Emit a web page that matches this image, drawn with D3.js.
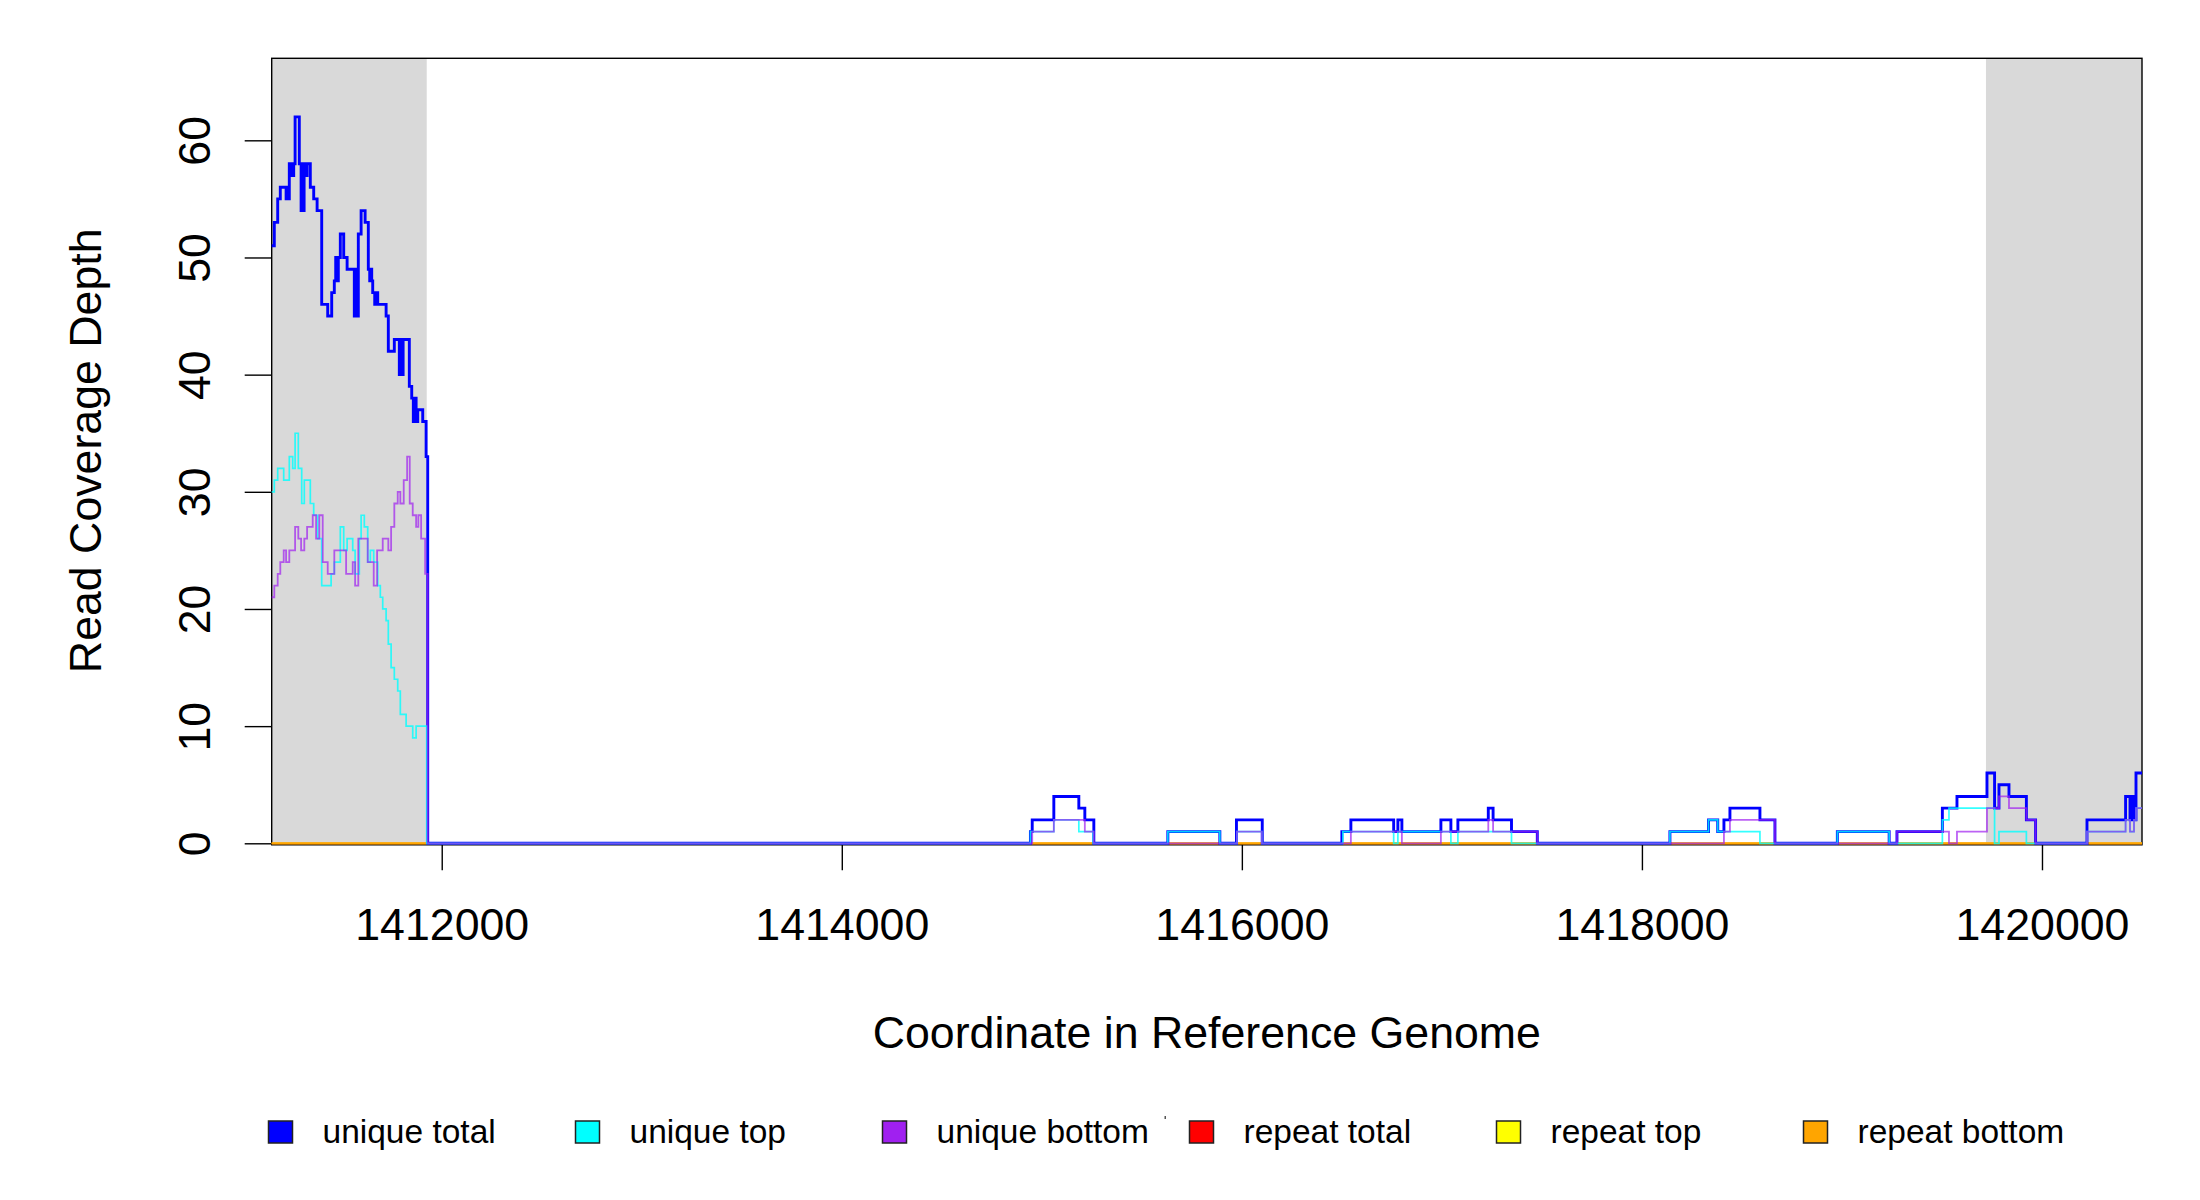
<!DOCTYPE html>
<html>
<head>
<meta charset="utf-8">
<script src="https://cdn.jsdelivr.net/npm/d3@7"></script>
<style>
  html, body { margin: 0; padding: 0; background: #ffffff; }
  svg { display: block; }
  text { font-family: "Liberation Sans", Arial, Helvetica, sans-serif; fill: #000; }
</style>
</head>
<body>
<svg id="chart" width="2200" height="1200"></svg>
<script>
// ---------------- data ----------------
const xDomain = [1411150, 1420500];
const yDomain = [0, 67];
const xTicks = [1412000, 1414000, 1416000, 1418000, 1420000];
const yTicks = [0, 10, 20, 30, 40, 50, 60];
const flankRegions = [[1411150, 1411925], [1419720, 1420500]];

const seriesNames = ["unique total", "unique top", "unique bottom", "repeat total", "repeat top", "repeat bottom"];
const seriesColors = ["#0000FF", "#00FFFF", "#A020F0", "#FF0000", "#FFFF00", "#FFA500"];

// [position, depth] breakpoints (step after)
const uniqueTotal = [
  [1411150,51],[1411163,53],[1411180,55],[1411193,56],[1411222,55],[1411228,56],[1411233,55],
  [1411238,58],[1411245,57],[1411250,58],[1411255,57],[1411260,58],[1411267,62],[1411288,58],
  [1411297,54],[1411302,58],[1411307,54],[1411312,58],[1411317,57],[1411327,58],[1411343,56],
  [1411360,55],[1411377,54],[1411400,46],[1411430,45],[1411450,47],[1411463,48],[1411470,50],
  [1411477,48],[1411483,50],[1411493,52],[1411510,50],[1411527,49],[1411563,45],[1411568,49],
  [1411573,45],[1411583,52],[1411597,54],[1411617,53],[1411633,49],[1411640,48],[1411645,49],
  [1411650,48],[1411655,47],[1411665,46],[1411672,47],[1411680,46],[1411693,46],[1411722,45],
  [1411733,42],[1411763,43],[1411788,40],[1411795,43],[1411800,40],[1411807,43],[1411813,43],
  [1411838,39],[1411850,38],[1411858,36],[1411865,38],[1411872,36],[1411880,37],[1411905,36],
  [1411922,33],[1411930,0],
  [1414943,1],[1414952,2],[1415060,4],[1415185,3],[1415215,2],[1415260,0],
  [1415630,1],[1415890,0],
  [1415973,2],[1416102,0],
  [1416500,1],[1416545,2],[1416759,1],[1416780,2],[1416800,1],[1416995,2],[1417045,1],
  [1417080,2],[1417232,3],[1417256,2],[1417348,1],[1417477,0],
  [1418140,1],[1418333,2],[1418379,1],[1418410,2],[1418440,3],[1418590,2],[1418665,0],
  [1418977,1],[1419236,0],
  [1419275,1],[1419502,3],[1419575,4],[1419725,6],[1419763,3],[1419785,5],[1419835,4],
  [1419922,2],[1419968,0],
  [1420225,2],[1420418,4],[1420440,2],[1420445,4],[1420450,2],[1420460,4],[1420465,2],
  [1420470,6],[1420500,6]
];

const uniqueTop = [
  [1411150,30],[1411163,31],[1411180,32],[1411210,31],[1411238,33],[1411255,32],[1411267,35],
  [1411283,32],[1411300,29],[1411313,31],[1411343,29],[1411360,28],[1411380,26],[1411400,22],
  [1411447,23],[1411463,24],[1411493,27],[1411510,25],[1411527,26],[1411555,25],[1411567,23],
  [1411588,26],[1411597,28],[1411613,27],[1411630,24],[1411643,25],[1411660,24],[1411680,22],
  [1411693,21],[1411705,20],[1411722,19],[1411733,17],[1411747,15],[1411763,14],[1411780,13],
  [1411793,11],[1411822,10],[1411855,9],[1411872,10],[1411925,0],
  [1414943,1],[1415060,2],[1415185,1],[1415257,0],
  [1415630,1],[1415890,0],
  [1415975,1],[1416100,0],
  [1416505,1],[1416759,0],[1416780,1],[1417045,0],[1417080,1],[1417348,0],
  [1418140,1],[1418333,2],[1418379,1],[1418590,0],
  [1418977,1],[1419236,0],
  [1419502,2],[1419535,3],[1419763,0],[1419785,1],[1419922,0],
  [1420225,1],[1420418,2],[1420440,1],[1420460,2],[1420470,3],[1420500,3]
];

const uniqueBottom = [
  [1411150,21],[1411163,22],[1411180,23],[1411193,24],[1411210,25],[1411222,24],[1411238,25],
  [1411267,27],[1411283,26],[1411297,25],[1411313,26],[1411327,27],[1411355,28],[1411372,26],
  [1411388,28],[1411405,24],[1411430,23],[1411463,25],[1411522,23],[1411555,24],[1411567,22],
  [1411583,26],[1411630,24],[1411660,22],[1411677,25],[1411705,26],[1411733,25],[1411747,27],
  [1411763,29],[1411780,30],[1411793,29],[1411810,31],[1411827,33],[1411840,29],[1411855,28],
  [1411872,27],[1411883,28],[1411897,26],[1411917,23],[1411930,0],
  [1414952,1],[1415060,2],[1415215,1],[1415260,0],
  [1415975,1],[1416100,0],
  [1416545,1],[1416800,0],[1416995,1],[1417232,2],[1417256,1],[1417477,0],
  [1418410,1],[1418440,2],[1418665,0],
  [1419275,1],[1419535,0],[1419575,1],[1419725,3],[1419785,4],[1419835,3],[1419922,2],
  [1419968,0],
  [1420225,1],[1420418,2],[1420440,1],[1420460,2],[1420470,3],[1420500,3]
];

const repeatTotal  = [[1411150,0],[1420500,0]];
const repeatTop    = [[1411150,0],[1420500,0]];
const repeatBottom = [[1411150,0],[1420500,0]];

// ---------------- drawing ----------------
const svg = d3.select("#chart");
const plot = { left: 271.7, right: 2142, top: 58.3, bottom: 843.3 };
const FS = 44.7;

const x = d3.scaleLinear().domain(xDomain).range([plot.left, plot.right]);
const y = d3.scaleLinear().domain(yDomain).range([plot.bottom, plot.top]);

svg.append("rect").attr("width", 2200).attr("height", 1200).attr("fill", "#fff");

// flank shading
svg.selectAll("rect.flank").data(flankRegions).enter().append("rect")
  .attr("class", "flank")
  .attr("x", d => x(d[0])).attr("y", plot.top)
  .attr("width", d => x(d[1]) - x(d[0])).attr("height", plot.bottom - plot.top + 1.5)
  .attr("fill", "#D9D9D9");

// box
svg.append("rect")
  .attr("x", plot.left).attr("y", plot.top)
  .attr("width", plot.right - plot.left).attr("height", plot.bottom - plot.top + 1.5)
  .attr("fill", "none").attr("stroke", "#000").attr("stroke-width", 1.4);

// axes
const xAxis = d3.axisBottom(x).tickValues(xTicks).tickFormat(d3.format("d"))
  .tickSize(27).tickPadding(38);
const gx = svg.append("g").attr("transform", `translate(0,${plot.bottom})`).call(xAxis);
gx.select(".domain").remove();
gx.selectAll(".tick line").attr("stroke", "#000").attr("stroke-width", 1.4);
gx.selectAll(".tick text").attr("font-size", FS)
  .attr("font-family", "'Liberation Sans', Arial, sans-serif").attr("fill", "#000");

const yAxis = d3.axisLeft(y).tickValues(yTicks).tickFormat(d3.format("d")).tickSize(27);
const gy = svg.append("g").attr("transform", `translate(${plot.left},0)`).call(yAxis);
gy.select(".domain").remove();
gy.selectAll(".tick line").attr("stroke", "#000").attr("stroke-width", 1.4);
gy.selectAll(".tick text")
  .attr("x", null).attr("dy", null)
  .attr("text-anchor", "middle")
  .attr("transform", "translate(-61.7,0) rotate(-90)")
  .attr("font-size", FS)
  .attr("font-family", "'Liberation Sans', Arial, sans-serif").attr("fill", "#000");

// titles
svg.append("text")
  .attr("x", (plot.left + plot.right) / 2).attr("y", 1048)
  .attr("text-anchor", "middle").attr("font-size", FS)
  .text("Coordinate in Reference Genome");
svg.append("text")
  .attr("transform", `translate(101,${(plot.top + plot.bottom) / 2}) rotate(-90)`)
  .attr("text-anchor", "middle").attr("font-size", FS)
  .text("Read Coverage Depth");

// lines
const line = d3.line().x(d => x(d[0])).y(d => y(d[1])).curve(d3.curveStepAfter);
const layers = [
  { data: repeatTotal,  color: seriesColors[3], w: 1.7, op: 1 },
  { data: repeatTop,    color: seriesColors[4], w: 1.7, op: 1 },
  { data: repeatBottom, color: seriesColors[5], w: 1.7, op: 1 },
  { data: uniqueTotal,  color: seriesColors[0], w: 2.9, op: 1 },
  { data: uniqueTop,    color: seriesColors[1], w: 1.7, op: 0.8 },
  { data: uniqueBottom, color: seriesColors[2], w: 1.8, op: 0.7 }
];
layers.forEach(L => {
  svg.append("path").datum(L.data)
    .attr("d", line)
    .attr("fill", "none")
    .attr("stroke", L.color)
    .attr("stroke-opacity", L.op)
    .attr("stroke-width", L.w)
    .attr("stroke-linejoin", "miter");
});

// legend
const legX0 = 280.5, legStep = 307, legY = 1132;
const leg = svg.append("g");
seriesNames.forEach((name, i) => {
  const cx = legX0 + i * legStep;
  leg.append("rect")
    .attr("x", cx - 12).attr("y", legY - 11)
    .attr("width", 24).attr("height", 22)
    .attr("fill", seriesColors[i]).attr("stroke", "#222").attr("stroke-width", 1.5);
  leg.append("text")
    .attr("x", cx + 42).attr("y", legY + 10.5)
    .attr("font-size", 33.5)
    .text(name);
});
// tiny stray mark present in the legend row
leg.append("rect").attr("x", 1164.5).attr("y", 1116).attr("width", 1.5).attr("height", 3).attr("fill", "#555");
</script>
</body>
</html>
